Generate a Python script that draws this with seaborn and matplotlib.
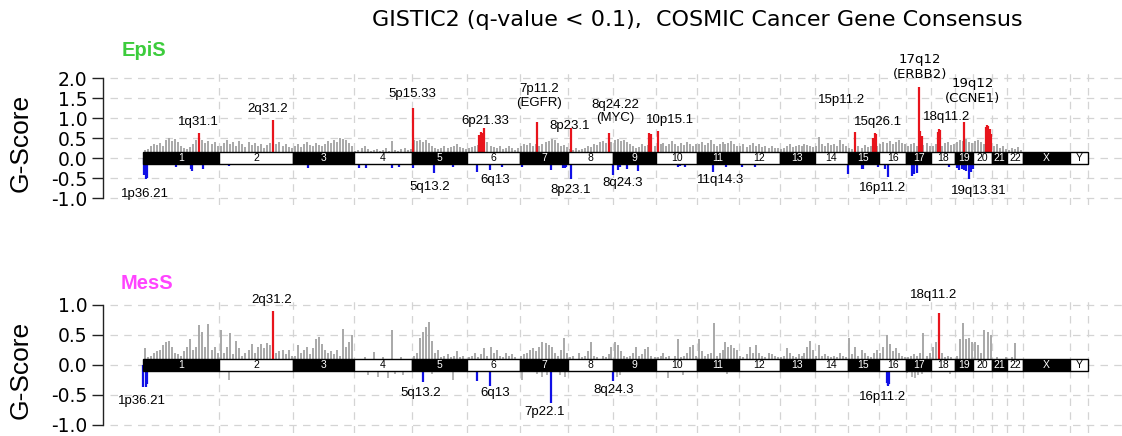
import numpy as np
import pandas as pd
import matplotlib
matplotlib.use("Agg")
import matplotlib.pyplot as plt
from matplotlib.patches import Rectangle
import seaborn as sns

# ---------------------------------------------------------------- data
CHROMS = [str(i) for i in range(1, 23)] + ["X", "Y"]
CHROM_MB = [249.25, 243.2, 198.0, 191.15, 180.9, 171.1, 159.1, 146.4, 141.2,
            135.5, 135.0, 133.85, 115.2, 107.35, 102.5, 90.35, 81.2, 78.1,
            59.1, 63.0, 48.1, 51.3, 155.3, 59.4]

# background (non-significant) amplification G-scores, evenly binned per chromosome
EPIS_GRAY = [
    [0.20, 0.22, 0.30, 0.36, 0.32, 0.38, 0.30, 0.45, 0.50, 0.42, 0.48, 0.40, 0.30, 0.26, 0.22, 0.28, 0.35, 0.44, 0.40, 0.45, 0.38, 0.42, 0.36, 0.40, 0.30],
    [0.30, 0.38, 0.45, 0.34, 0.40, 0.30, 0.42, 0.36, 0.28, 0.40, 0.33, 0.38, 0.30, 0.36, 0.25, 0.32, 0.38, 0.30, 0.35, 0.40, 0.30, 0.34, 0.28, 0.25],
    [0.30, 0.36, 0.28, 0.35, 0.40, 0.32, 0.30, 0.38, 0.33, 0.30, 0.36, 0.42, 0.38, 0.45, 0.40, 0.50, 0.48, 0.44, 0.38, 0.30],
    [0.18, 0.20, 0.25, 0.30, 0.22, 0.18, 0.20, 0.22, 0.18, 0.20, 0.24, 0.18, 0.42, 0.20, 0.18, 0.22, 0.25, 0.20, 0.22],
    [0.45, 0.42, 0.46, 0.40, 0.44, 0.38, 0.30, 0.25, 0.22, 0.26, 0.30, 0.24, 0.28, 0.30, 0.35, 0.28, 0.25, 0.22],
    [0.25, 0.28, 0.30, 0.32, 0.35, 0.38, 0.40, 0.30, 0.28, 0.25, 0.30, 0.22, 0.26, 0.30, 0.24, 0.20, 0.25],
    [0.30, 0.35, 0.32, 0.38, 0.30, 0.35, 0.30, 0.35, 0.40, 0.42, 0.48, 0.45, 0.38, 0.30, 0.33, 0.28],
    [0.22, 0.20, 0.25, 0.20, 0.22, 0.26, 0.30, 0.28, 0.35, 0.33, 0.40, 0.42, 0.38, 0.45, 0.40],
    [0.45, 0.48, 0.42, 0.46, 0.40, 0.35, 0.30, 0.25, 0.28, 0.35, 0.30, 0.32, 0.38, 0.30],
    [0.30, 0.35, 0.38, 0.30, 0.34, 0.42, 0.35, 0.30, 0.38, 0.33, 0.40, 0.35, 0.30, 0.36],
    [0.35, 0.40, 0.32, 0.38, 0.44, 0.35, 0.30, 0.36, 0.40, 0.34, 0.38, 0.42, 0.35, 0.30],
    [0.30, 0.35, 0.28, 0.32, 0.38, 0.30, 0.34, 0.28, 0.30, 0.26, 0.30, 0.24, 0.25],
    [0.22, 0.25, 0.30, 0.35, 0.28, 0.30, 0.33, 0.30, 0.36, 0.32, 0.30, 0.28],
    [0.30, 0.52, 0.35, 0.30, 0.38, 0.32, 0.36, 0.30, 0.45, 0.35, 0.30],
    [0.25, 0.22, 0.28, 0.30, 0.26, 0.32, 0.28, 0.30, 0.25, 0.30],
    [0.35, 0.40, 0.38, 0.42, 0.36, 0.40, 0.45, 0.38, 0.35],
    [0.30, 0.35, 0.38, 0.30, 0.35, 0.32, 0.38, 0.30],
    [0.30, 0.35, 0.32, 0.30, 0.38, 0.40, 0.32, 0.35],
    [0.40, 0.45, 0.42, 0.48, 0.40, 0.38],
    [0.42, 0.45, 0.40, 0.35, 0.38, 0.42],
    [0.30, 0.35, 0.25, 0.30, 0.22],
    [0.20, 0.25, 0.22, 0.28, 0.20],
]
MESS_GRAY = [
    [0.28, 0.12, 0.15, 0.20, 0.22, 0.25, 0.32, 0.38, 0.40, 0.30, 0.20, 0.18, 0.15, 0.22, 0.30, 0.42, 0.25, 0.30, 0.66, 0.55, 0.30, 0.68, 0.25, 0.30, 0.20],
    [0.57, 0.20, 0.30, 0.52, 0.18, 0.40, 0.27, 0.15, 0.20, 0.24, 0.35, 0.20, 0.30, 0.34, 0.28, 0.36, 0.33, 0.15, 0.20, 0.22, 0.25, 0.18, 0.24, 0.15],
    [0.15, 0.32, 0.20, 0.25, 0.30, 0.18, 0.28, 0.42, 0.46, 0.35, 0.25, 0.20, 0.22, 0.18, 0.25, 0.15, 0.60, 0.30, 0.38, 0.50],
    [0.08, 0.10, 0.08, 0.12, 0.10, 0.08, 0.21, 0.10, 0.08, 0.12, 0.10, 0.10, 0.57, 0.10, 0.08, 0.12, 0.10, 0.08, 0.10],
    [0.15, 0.20, 0.45, 0.55, 0.63, 0.71, 0.40, 0.20, 0.25, 0.12, 0.15, 0.18, 0.12, 0.15, 0.22, 0.12, 0.15, 0.10],
    [0.12, 0.15, 0.20, 0.12, 0.18, 0.27, 0.15, 0.30, 0.20, 0.25, 0.15, 0.12, 0.20, 0.15, 0.18, 0.12, 0.10],
    [0.15, 0.18, 0.20, 0.25, 0.28, 0.22, 0.30, 0.38, 0.36, 0.33, 0.30, 0.20, 0.15, 0.25, 0.45, 0.20],
    [0.12, 0.15, 0.10, 0.20, 0.12, 0.15, 0.22, 0.38, 0.15, 0.12, 0.10, 0.15, 0.12, 0.18, 0.30],
    [0.38, 0.32, 0.22, 0.15, 0.12, 0.15, 0.20, 0.30, 0.15, 0.18, 0.26, 0.30, 0.15, 0.12],
    [0.12, 0.15, 0.20, 0.12, 0.15, 0.10, 0.15, 0.42, 0.12, 0.15, 0.20, 0.30, 0.32, 0.15],
    [0.43, 0.22, 0.15, 0.18, 0.20, 0.69, 0.15, 0.20, 0.25, 0.38, 0.30, 0.32, 0.28, 0.25],
    [0.15, 0.12, 0.18, 0.30, 0.20, 0.32, 0.20, 0.15, 0.12, 0.20, 0.18, 0.15, 0.12],
    [0.12, 0.15, 0.27, 0.20, 0.15, 0.12, 0.18, 0.15, 0.20, 0.30, 0.39, 0.25],
    [0.15, 0.32, 0.15, 0.18, 0.15, 0.12, 0.15, 0.12, 0.20, 0.15, 0.12],
    [0.45, 0.18, 0.30, 0.15, 0.25, 0.20, 0.15, 0.12, 0.20, 0.24],
    [0.20, 0.30, 0.49, 0.35, 0.22, 0.27, 0.20, 0.15, 0.12],
    [0.12, 0.15, 0.18, 0.15, 0.20, 0.52, 0.15, 0.20],
    [0.30, 0.38, 0.25, 0.20, 0.12, 0.15, 0.12, 0.10],
    [0.15, 0.43, 0.69, 0.42, 0.45, 0.38],
    [0.38, 0.32, 0.20, 0.57, 0.54, 0.49],
    [0.10, 0.12, 0.08, 0.10, 0.12],
    [0.10, 0.12, 0.36, 0.10, 0.08],
]

# background deletion G-scores (only those poking out below the ideogram)
MESS_DEL_CHR = ["1", "1", "2", "3", "4", "4", "4", "4", "4", "5", "5", "6", "7", "7", "7", "7",
                "7", "7", "8", "9", "9", "10", "10", "11", "12", "17", "17", "17", "17", "17", "18"]
MESS_DEL_POS = [39, 65, 32, 15, 46, 79, 112, 135, 161, 64, 134, 8, 6.5, 57, 73, 89,
                132, 148, 104, 12, 23, 39, 88, 96, 44, 1, 17, 28, 39, 50, 61]
MESS_DEL_G = [-0.12, -0.10, -0.26, -0.12, -0.18, -0.20, -0.23, -0.15, -0.18, -0.15, -0.25, -0.12,
              -0.26, -0.15, -0.20, -0.18, -0.18, -0.20, -0.12, -0.20, -0.17, -0.23, -0.17, -0.15,
              -0.12, -0.14, -0.20, -0.23, -0.18, -0.15, -0.15]

# significant amplifications (red) and deletions (blue)
EPIS_AMP_CHR = ["1", "2", "5", "6", "6", "6", "6", "7", "8", "8", "9", "9", "10", "15", "15", "15", "15",
                "17", "17", "17", "18", "18", "18", "19", "20", "20", "20", "20", "20"]
EPIS_AMP_POS = [184, 177.5, 1.3, 38, 44, 49, 55, 55.7, 7.9, 133.3, 119, 123, 4.9, 24.4, 85, 89.8, 93,
                41, 46, 50, 22.6, 24.9, 28.2, 30.2, 42.2, 46.4, 50.3, 54.3, 57.5]
EPIS_AMP_G = [0.62, 0.95, 1.26, 0.58, 0.64, 0.62, 0.74, 0.90, 0.74, 0.63, 0.62, 0.60, 0.68, 0.66, 0.50, 0.62, 0.60,
              1.77, 0.68, 0.55, 0.65, 0.73, 0.70, 0.91, 0.78, 0.83, 0.80, 0.72, 0.60]

EPIS_DEL_CHR = ["1", "1", "1", "1", "1", "1", "1", "1", "2", "3", "4", "4", "4", "4", "5", "5", "5",
                "6", "6", "6", "7", "7", "7", "7", "7", "8", "8", "9", "9", "9", "9", "10", "10", "10",
                "11", "11", "12", "12", "15", "15", "15", "15", "16", "16", "17", "17", "17", "18",
                "19", "19", "19", "19", "19", "19", "19", "20"]
EPIS_DEL_POS = [2, 6, 10, 13, 107, 157, 161, 196, 31, 48, 17, 40, 126, 149, 2, 71, 133,
                32, 74, 112, 6.5, 102.5, 141, 147, 152, 7.9, 145.4, 17, 23, 45, 81, 71, 78, 95,
                52, 92, 10, 53, 2, 46, 52, 100, 20, 31, 19, 26, 34, 58,
                5, 12.6, 21.5, 29, 36.7, 45.5, 52, 1.2]
EPIS_DEL_G = [-0.42, -0.38, -0.53, -0.50, -0.22, -0.28, -0.32, -0.28, -0.20, -0.26, -0.25, -0.25, -0.25, -0.22,
              -0.25, -0.38, -0.22, -0.36, -0.29, -0.22, -0.22, -0.30, -0.24, -0.26, -0.22, -0.53, -0.42,
              -0.30, -0.22, -0.27, -0.32, -0.22, -0.20, -0.22, -0.36, -0.22, -0.22, -0.22,
              -0.40, -0.28, -0.27, -0.22, -0.28, -0.47, -0.45, -0.40, -0.38, -0.22,
              -0.25, -0.30, -0.27, -0.30, -0.33, -0.53, -0.35, -0.28]

MESS_AMP_CHR = ["2", "18"]
MESS_AMP_POS = [177.5, 25]
MESS_AMP_G = [0.90, 0.86]

MESS_DEL_SIG_CHR = ["1", "1", "1", "5", "6", "6", "7", "8", "16", "16", "16", "16"]
MESS_DEL_SIG_POS = [1, 9, 14, 36, 30, 74, 102.5, 145.4, 27, 29, 31, 33]
MESS_DEL_SIG_G = [-0.37, -0.37, -0.32, -0.29, -0.27, -0.36, -0.64, -0.28, -0.30, -0.34, -0.35, -0.32]

# peak annotations: text, genome position (Mb), G-score height
EPIS_LABELS = ["1q31.1", "2q31.2", "5p15.33", "6p21.33", "7p11.2\n(EGFR)", "8p23.1", "8q24.22\n(MYC)",
               "10p15.1", "15p11.2", "15q26.1", "17q12\n(ERBB2)", "18q11.2", "19q12\n(CCNE1)",
               "1p36.21", "5q13.2", "6q13", "8p23.1", "8q24.3", "11q14.3", "16p11.2", "19q13.31"]
EPIS_LABEL_MB = [180, 409, 882, 1120, 1297, 1398, 1548, 1726, 2288, 2408, 2545, 2630, 2718,
                 6.5, 938, 1153, 1402, 1570, 1890, 2422, 2737]
EPIS_LABEL_G = [0.91, 1.22, 1.59, 0.93, 1.55, 0.81, 1.16, 0.95, 1.45, 0.91, 2.28, 1.03, 1.67,
                -0.90, -0.72, -0.55, -0.80, -0.62, -0.55, -0.76, -0.83]

MESS_LABELS = ["2q31.2", "18q11.2", "1p36.21", "5q13.2", "6q13", "7p22.1", "8q24.3", "16p11.2"]
MESS_LABEL_MB = [421.5, 2590, -4, 909, 1153, 1314, 1540, 2422]
MESS_LABEL_G = [1.08, 1.16, -0.61, -0.48, -0.48, -0.79, -0.43, -0.54]

EPI_TICKS = [-1.0, -0.5, 0.0, 0.5, 1.0, 1.5, 2.0]
MES_TICKS = [-1.0, -0.5, 0.0, 0.5, 1.0]

TITLE = "GISTIC2 (q-value < 0.1),  COSMIC Cancer Gene Consensus"

# ---------------------------------------------------------------- styling
sns.set_theme(style="white")
plt.rcParams["font.family"] = ["Liberation Sans", "DejaVu Sans"]
plt.rcParams["axes.unicode_minus"] = False
plt.rcParams["text.color"] = "black"
plt.rcParams["ytick.color"] = "black"
plt.rcParams["axes.labelcolor"] = "black"

GRAY = "#a8a8a8"
RED = "#e8141c"
BLUE = "#1010e6"
GRID = "#d4d4d4"
WIDE_LABELS = {"17q12\n(ERBB2)", "19q12\n(CCNE1)"}

chrom_df = pd.DataFrame({"chrom": CHROMS, "length": CHROM_MB})
chrom_df["start"] = chrom_df["length"].cumsum() - chrom_df["length"]
chrom_df["end"] = chrom_df["start"] + chrom_df["length"]
chrom_start = dict(zip(chrom_df["chrom"], chrom_df["start"]))
chrom_len = dict(zip(chrom_df["chrom"], chrom_df["length"]))


def gray_frame(values):
    """Place each chromosome's binned scores at evenly spaced bin centres."""
    rows = []
    for chrom, vals in zip(CHROMS, values):
        n = len(vals)
        for i, v in enumerate(vals):
            rows.append((chrom_start[chrom] + (i + 0.5) / n * chrom_len[chrom], v))
    return pd.DataFrame(rows, columns=["genome", "g"])


def peak_frame(chroms, pos, g):
    df = pd.DataFrame({"chrom": chroms, "pos": pos, "g": g})
    df["genome"] = df["chrom"].map(chrom_start) + df["pos"]
    return df


fig = plt.figure(figsize=(11.22, 4.36), dpi=100)
FW, FH = 1122.0, 436.0


def make_axes(top_px, bottom_px):
    return fig.add_axes([103 / FW, 1 - bottom_px / FH, (FW - 103) / FW, (bottom_px - top_px) / FH])


def draw_panel(ax, ylim, ticks, gray_amp, gray_del, amp, dele, labels, label_mb, label_g,
               name, name_color, name_xy, ylabel_y):
    ax.set_xlim(-131, 3206)
    ax.set_ylim(*ylim)
    ax_h_px = ax.get_position().height * FH
    px_per_unit = ax_h_px / (ylim[1] - ylim[0])
    half = 6.0 / px_per_unit

    # grid: tick levels and chromosome boundaries
    for t in ticks:
        ax.axhline(t, color=GRID, lw=0.9, ls=(0, (6, 5)), zorder=0, xmin=0.007)
    for b in chrom_df["end"]:
        ax.axvline(b, color=GRID, lw=0.9, ls=(0, (6, 5)), zorder=0)

    ax.vlines(gray_amp["genome"], 0, gray_amp["g"], color=GRAY, lw=1.4, zorder=1)
    if gray_del is not None:
        ax.vlines(gray_del["genome"], 0, gray_del["g"], color=GRAY, lw=1.2, zorder=1)
    ax.vlines(amp["genome"], 0, amp["g"], color=RED, lw=1.6, zorder=2)
    ax.vlines(dele["genome"], 0, dele["g"], color=BLUE, lw=1.6, zorder=2)

    # chromosome ideogram along zero
    for i, row in chrom_df.iterrows():
        dark = i % 2 == 0
        ax.add_patch(Rectangle((row["start"], -half), row["length"], 2 * half,
                               facecolor="black" if dark else "white",
                               edgecolor="black", lw=1.0, zorder=3))
        ax.text(row["start"] + row["length"] / 2, 0, row["chrom"], ha="center", va="center",
                fontsize=7.5, color="white" if dark else "black", zorder=4)

    for txt, x, y in zip(labels, label_mb, label_g):
        fam = ["DejaVu Sans"] if txt in WIDE_LABELS else ["Liberation Sans", "DejaVu Sans"]
        ax.text(x, y, txt, ha="center", va="center", fontsize=9.5, family=fam,
                linespacing=1.15, multialignment="center", zorder=5)

    sns.despine(ax=ax, bottom=True)
    ax.spines["left"].set_bounds(ticks[0], ticks[-1])
    ax.spines["left"].set_color("#222222")
    ax.spines["left"].set_linewidth(1.0)
    ax.set_yticks(ticks)
    ax.set_yticklabels([f"{t:.1f}" for t in ticks], family="DejaVu Sans", fontsize=13.5)
    ax.tick_params(axis="y", left=True, length=8, width=1.0, color="#222222",
                   labelcolor="black", pad=3)
    ax.set_xticks([])
    ax.grid(False)
    ax.patch.set_alpha(0)

    ax.text((21 - 103) / (FW - 103), ylabel_y, "G-Score", transform=ax.transAxes, rotation=90,
            ha="center", va="center", fontsize=19)
    fig.text(name_xy[0] / FW, 1 - name_xy[1] / FH, name, color=name_color, fontsize=14.5,
             fontweight="bold", ha="center", va="center")


ax1 = make_axes(70, 205)
draw_panel(ax1, ((158 - 205) / 40, (158 - 70) / 40), EPI_TICKS,
           gray_frame(EPIS_GRAY), None,
           peak_frame(EPIS_AMP_CHR, EPIS_AMP_POS, EPIS_AMP_G),
           peak_frame(EPIS_DEL_CHR, EPIS_DEL_POS, EPIS_DEL_G),
           EPIS_LABELS, EPIS_LABEL_MB, EPIS_LABEL_G,
           "EpiS", "#3ccc3c", (144, 50), (205 - 143) / 135)

# lower panel: zero line at 364.5 px from the top, 60 px per G-score unit
ax2 = make_axes(297, 433)
draw_panel(ax2, ((364.5 - 433) / 60, (364.5 - 297) / 60), MES_TICKS,
           gray_frame(MESS_GRAY), peak_frame(MESS_DEL_CHR, MESS_DEL_POS, MESS_DEL_G),
           peak_frame(MESS_AMP_CHR, MESS_AMP_POS, MESS_AMP_G),
           peak_frame(MESS_DEL_SIG_CHR, MESS_DEL_SIG_POS, MESS_DEL_SIG_G),
           MESS_LABELS, MESS_LABEL_MB, MESS_LABEL_G,
           "MesS", "#ff44ff", (147, 283), (433 - 370) / 136)

fig.text(697 / FW, 1 - 20 / FH, TITLE, ha="center", va="center", fontsize=16, family="DejaVu Sans")

fig.savefig("out.png", dpi=100)
